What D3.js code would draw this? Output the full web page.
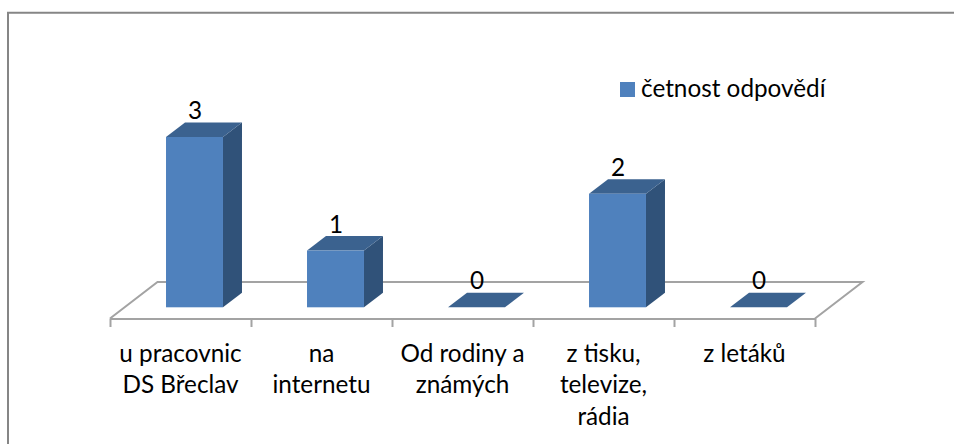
<!DOCTYPE html>
<html>
<head>
<meta charset="utf-8">
<script src="https://cdn.jsdelivr.net/npm/d3@7"></script>
<style>
  html, body { margin: 0; padding: 0; background: #fff; }
  svg { display: block; }
  text { font-family: Lato, "Open Sans", sans-serif; fill: #000; }
</style>
</head>
<body>
<div id="graph"></div>
<script>
const categories = [
    ['u pracovnic', 'DS Břeclav'],
    ['na', 'internetu'],
    ['Od rodiny a', 'známých'],
    ['z tisku,', 'televize,', 'rádia'],
    ['z letáků']
];
const values = [3, 1, 0, 2, 0];
const seriesName = 'četnost odpovědí';

const width = 954;
const height = 444;
const floorFront = 318.5;
const floorDepth = {x: 47.5, y: -36.5};
const barDepth = {x: 19, y: -14.5};
const fontSize = 24.3;

const svg = d3.select('#graph')
    .append('svg')
        .attr('width', width)
        .attr('height', height)
        .attr('viewBox', [0, 0, width, height]);

const idx = d3.range(categories.length);

// band edges line up with the axis ticks
const x = d3.scaleBand()
    .domain(idx)
    .range([110, 815])
    .paddingInner(0.596)
    .paddingOuter(0.298);

const edges = d3.scalePoint()
    .domain(d3.range(categories.length + 1))
    .range([110, 815]);

const y = d3.scaleLinear()
    .domain([0, 3])
    .range([307.3, 137]);

const barShift = 14;

// outer frame, only top and left are visible in the picture
svg.append('path')
    .attr('d', d3.line()([[8, height], [8, 12.8], [width, 12.8]]))
    .attr('fill', 'none')
    .attr('stroke', '#868686')
    .attr('stroke-width', 2);

// floor
svg.append('path')
    .attr('d', d3.line()([
        [edges(0), floorFront],
        [edges(0) + floorDepth.x, floorFront + floorDepth.y],
        [edges(5) + floorDepth.x, floorFront + floorDepth.y],
        [edges(5), floorFront]
    ]))
    .attr('fill', 'none')
    .attr('stroke', '#a3a3a3')
    .attr('stroke-width', 2);

function xAxis(g) {
    g.attr('transform', `translate(0, ${floorFront})`)
        .call(d3.axisBottom(edges).tickSize(8.5).tickSizeOuter(0).tickFormat(''));
    g.select('.domain').attr('stroke', '#a3a3a3').attr('stroke-width', 2);
    g.selectAll('.tick line').attr('stroke', '#a3a3a3').attr('stroke-width', 2);
}
svg.append('g').call(xAxis);

const bars = svg.append('g')
    .selectAll('g')
    .data(idx)
    .join('g')
        .attr('transform', d => `translate(${x(d) + barShift}, 0)`);

const w = x.bandwidth();

// side face
bars.filter(d => values[d] > 0).append('path')
    .attr('d', d => d3.line()([
        [w, y(values[d])],
        [w + barDepth.x, y(values[d]) + barDepth.y],
        [w + barDepth.x, y(0) + barDepth.y],
        [w, y(0)]
    ]) + 'Z')
    .attr('fill', '#305279');

// top face
bars.append('path')
    .attr('d', d => d3.line()([
        [0, y(values[d])],
        [barDepth.x, y(values[d]) + barDepth.y],
        [w + barDepth.x, y(values[d]) + barDepth.y],
        [w, y(values[d])]
    ]) + 'Z')
    .attr('fill', '#3b628f');

// front face
bars.filter(d => values[d] > 0).append('rect')
    .attr('x', 0)
    .attr('y', d => y(values[d]))
    .attr('width', w)
    .attr('height', d => y(0) - y(values[d]))
    .attr('fill', '#4f81bd');

// value labels
bars.append('text')
    .attr('x', w / 2 + 0.5)
    .attr('y', d => y(values[d]) + barDepth.y - 3.5)
    .attr('text-anchor', 'middle')
    .attr('font-size', fontSize)
    .text(d => values[d]);

// category labels
svg.append('g')
    .selectAll('text')
    .data(idx)
    .join('text')
        .attr('x', d => x(d) + w / 2)
        .attr('y', 361.5)
        .attr('text-anchor', 'middle')
        .attr('font-size', fontSize)
        .selectAll('tspan')
        .data(d => categories[d])
        .join('tspan')
            .attr('x', function() { return this.parentNode.getAttribute('x'); })
            .attr('dy', (d, i) => i ? 31.5 : 0)
            .text(d => d);

// legend
svg.append('rect')
    .attr('x', 620)
    .attr('y', 82)
    .attr('width', 15)
    .attr('height', 15)
    .attr('fill', '#4f81bd');

svg.append('text')
    .attr('x', 641)
    .attr('y', 96.5)
    .attr('font-size', fontSize)
    .text(seriesName);
</script>
</body>
</html>
